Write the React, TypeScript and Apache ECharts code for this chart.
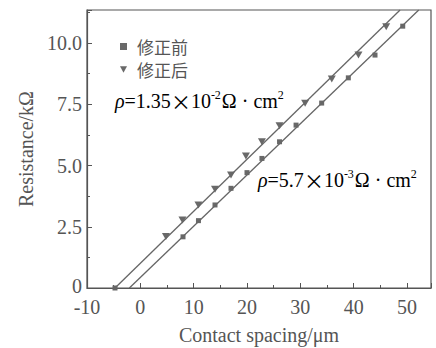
import React, { useEffect, useRef } from "react";
import * as echarts from "echarts";

const beforeX = [8.0, 10.9, 14.0, 17.0, 20.0, 22.8, 26.1, 29.2, 34.0, 39.0, 44.0, 49.2];
const beforeY = [2.09, 2.75, 3.39, 4.07, 4.71, 5.29, 5.97, 6.65, 7.55, 8.58, 9.51, 10.69];
const afterX = [4.8, 7.9, 10.9, 14.0, 17.0, 19.8, 22.8, 26.1, 30.9, 35.9, 40.9, 46.1];
const afterY = [2.1, 2.78, 3.39, 4.03, 4.61, 5.39, 5.97, 6.62, 7.54, 8.53, 9.51, 10.67];
const fitBefore = [[-2.06, 0], [52.2, 11.35]];
const fitAfter = [[-4.75, 0], [48.7, 11.35]];
const seriesNames = ["修正前", "修正后"];
const xName = "Contact spacing/μm";
const yName = "Resistance/kΩ";

const GRAY = "#555";
const FONT = "'Liberation Serif', 'Times New Roman', serif";
const CJK = "'Noto Sans CJK SC', sans-serif";
const TRI = "path://M0,0 L10,0 L5,9 Z";

export default function App() {
  const ref = useRef<HTMLDivElement>(null);
  useEffect(() => {
    const chart = echarts.init(ref.current!, null, { renderer: "svg" });
    const rich = {
      n: { fontSize: 20, fontFamily: FONT, color: GRAY, lineHeight: 24 },
      x: { fontSize: 20, fontFamily: CJK, color: GRAY, lineHeight: 24 },
      i: { fontSize: 20, fontFamily: FONT, color: GRAY, fontStyle: "italic", lineHeight: 24 },
      s: { fontSize: 12, fontFamily: FONT, color: GRAY, verticalAlign: "top", lineHeight: 24, padding: [0, 1, 8, 0] },
    };
    chart.setOption({
      animation: false,
      grid: {
        left: 87, right: 5, top: 10, bottom: 60,
        show: true, borderColor: GRAY, borderWidth: 1.2,
        outerBoundsMode: "none",
      },
      legend: {
        orient: "vertical",
        left: 115,
        top: 33,
        itemWidth: 7,
        itemHeight: 7,
        itemGap: 6,
        textStyle: { fontFamily: CJK, fontSize: 17, color: GRAY, padding: [0, 0, 0, 5] },
        data: [
          { name: seriesNames[0], icon: "rect" },
          { name: seriesNames[1], icon: TRI },
        ],
      },
      xAxis: {
        type: "value",
        min: -10,
        max: 54.5,
        interval: 10,
        name: xName,
        nameLocation: "middle",
        nameGap: 37,
        nameTextStyle: { fontFamily: FONT, fontSize: 20, color: GRAY },
        axisLine: { onZero: false, lineStyle: { color: GRAY, width: 1.2 } },
        axisTick: { inside: true, length: 5, lineStyle: { color: GRAY } },
        minorTick: { show: true, splitNumber: 2, length: 3, lineStyle: { color: GRAY } },
        axisLabel: { fontFamily: FONT, fontSize: 20, lineHeight: 18, color: GRAY, margin: 10, showMaxLabel: false },
        splitLine: { show: false },
      },
      yAxis: {
        type: "value",
        min: 0,
        max: 11.35,
        interval: 2.5,
        name: yName,
        nameLocation: "middle",
        nameGap: 48,
        nameTextStyle: { fontFamily: FONT, fontSize: 20, color: GRAY },
        axisLine: { onZero: false, lineStyle: { color: GRAY, width: 1.2 } },
        axisTick: { inside: true, length: 5, lineStyle: { color: GRAY } },
        minorTick: { show: true, splitNumber: 2, length: 3, lineStyle: { color: GRAY } },
        axisLabel: {
          fontFamily: FONT,
          fontSize: 20,
          lineHeight: 16,
          color: GRAY,
          margin: 5,
          showMaxLabel: false,
          formatter: (v: number) => (v === 0 ? "{z|0}" : v.toFixed(1)),
          rich: {
            z: { fontFamily: FONT, fontSize: 20, color: GRAY, lineHeight: 16, padding: [0, 0, 5, 0] },
          },
        },
        splitLine: { show: false },
      },
      series: [
        {
          type: "line",
          data: fitBefore,
          showSymbol: false,
          lineStyle: { color: "#666", width: 1.3 },
          silent: true,
        },
        {
          type: "line",
          data: fitAfter.map((p, k) => ({ value: p, symbol: k === 0 ? "rect" : "none" })),
          symbolSize: 5,
          showSymbol: true,
          itemStyle: { color: "#666" },
          lineStyle: { color: "#666", width: 1.3 },
          silent: true,
        },
        {
          name: seriesNames[0],
          type: "scatter",
          symbol: "rect",
          symbolSize: 5,
          itemStyle: { color: "#444" },
          data: beforeX.map((x, k) => [x, beforeY[k]]),
        },
        {
          name: seriesNames[1],
          type: "scatter",
          symbol: TRI,
          symbolSize: [8, 7],
          itemStyle: { color: "#444" },
          data: afterX.map((x, k) => [x, afterY[k]]),
        },
      ],
      graphic: [
        {
          type: "text",
          left: 115,
          top: 89,
          style: { text: "{i|ρ}{n|=1.35}{x|×}{n|10}{s|-2}{n|Ω · cm}{s|2}", rich },
        },
        {
          type: "text",
          left: 258,
          top: 168,
          style: { text: "{i|ρ}{n|=5.7}{x|×}{n|10}{s|-3}{n|Ω · cm}{s|2}", rich },
        },
      ],
    });
    return () => chart.dispose();
  }, []);
  return <div ref={ref} style={{ width: 436, height: 348, position: "absolute", left: 0, top: 0 }} />;
}
